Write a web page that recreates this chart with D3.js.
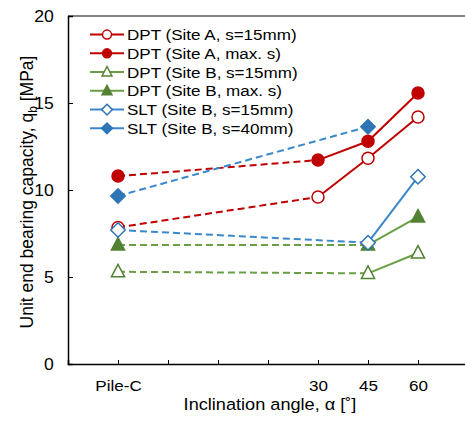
<!DOCTYPE html>
<html><head><meta charset="utf-8">
<script src="https://cdn.jsdelivr.net/npm/d3@7"></script>
<style>body{margin:0;background:#fff}svg{display:block;font-family:"Liberation Sans",Arial,sans-serif}</style>
</head><body>
<svg id="c" width="465" height="425"></svg>
<script>
// Data
const xCategories = ["Pile-C", "30", "45", "60"];
const xPositions = [1, 5, 6, 7];           // position of each category on the axis
const seriesNames = ["DPT (Site A, s=15mm)", "DPT (Site A, max. s)", "DPT (Site B, s=15mm)", "DPT (Site B, max. s)", "SLT (Site B, s=15mm)", "SLT (Site B, s=40mm)"];
const siteA_s15 = [7.85, 9.6, 11.82, 14.2];
const siteA_max = [10.8, 11.72, 12.8, 15.57];
const siteB_s15 = [5.3, null, 5.21, 6.38];
const siteB_max = [6.84, null, 6.84, 8.45];
const slt_s15 = [7.7, null, 6.97, 10.76];
const slt_s40 = [9.66, null, 13.64, null];
const yTicks = [0, 5, 10, 15, 20];

const styles = [
  {line:"#C00000", mk:"#C00000", shape:"circle", fill:false},
  {line:"#C00000", mk:"#C00000", shape:"circle", fill:true},
  {line:"#6A9F45", mk:"#548235", shape:"triangle", fill:false},
  {line:"#6A9F45", mk:"#548235", shape:"triangle", fill:true},
  {line:"#3A87CC", mk:"#2E75B6", shape:"diamond", fill:false},
  {line:"#3A87CC", mk:"#2E75B6", shape:"diamond", fill:true}
];
const allSeries = [siteA_s15, siteA_max, siteB_s15, siteB_max, slt_s15, slt_s40];
const SX = 1.1; // horizontal text stretch seen in the reference

const svg = d3.select("#c");
const x = d3.scaleLinear().domain([0, 8]).range([68, 468]);
const y = d3.scaleLinear().domain([0, 20]).range([364, 16]);

// frame: top line
svg.append("line").attr("x1", 68).attr("x2", 465).attr("y1", 16).attr("y2", 16)
  .attr("stroke", "#595959").attr("stroke-width", 1.5);

// y axis
const yAx = svg.append("g").attr("transform", "translate(68,0)")
  .call(d3.axisLeft(y).tickValues(yTicks).tickSize(-5).tickPadding(13));
yAx.select(".domain").attr("stroke", "#000").attr("stroke-width", 1.5);
yAx.selectAll(".tick line").attr("stroke", "#000").attr("stroke-width", 1);
yAx.selectAll("text").attr("font-size", 16).attr("fill", "#000")
  .attr("font-family", "Liberation Sans, Arial, sans-serif").attr("transform", `scale(${SX},1)`);

// x axis
const xAx = svg.append("g").attr("transform", "translate(0,364)")
  .call(d3.axisBottom(x).tickValues([1,2,3,4,5,6,7]).tickSize(-4).tickPadding(16)
    .tickFormat(d => { const i = xPositions.indexOf(d); return i >= 0 ? xCategories[i] : ""; }));
xAx.select(".domain").attr("stroke", "#000").attr("stroke-width", 1.5);
xAx.selectAll(".tick line").attr("stroke", "#000").attr("stroke-width", 1);
xAx.selectAll("text").attr("font-size", 15.5).attr("fill", "#000")
  .attr("font-family", "Liberation Sans, Arial, sans-serif").attr("transform", `scale(${SX},1)`);

// axis titles
svg.append("text").attr("transform", `translate(270,410) scale(${SX},1)`).attr("text-anchor", "middle")
  .attr("font-size", 16.5).attr("fill", "#000")
  .text("Inclination angle, α [˚]");
const yt = svg.append("text").attr("transform", "translate(33,192) rotate(-90)")
  .attr("text-anchor", "middle").attr("font-size", 17.5).attr("fill", "#000");
yt.append("tspan").text("Unit end bearing capacity, q");
yt.append("tspan").attr("font-size", 12).attr("dy", 4).text("b");
yt.append("tspan").attr("dy", -4).text(" [MPa]");

function marker(g, shape, cx, cy, size, st) {
  let el;
  if (shape === "circle") {
    el = g.append("circle").attr("cx", cx).attr("cy", cy).attr("r", size / 2);
  } else if (shape === "triangle") {
    const h = size, w = size * 1.1;
    el = g.append("path").attr("d", `M${cx},${cy - h*0.62}L${cx + w/2},${cy + h*0.42}L${cx - w/2},${cy + h*0.42}Z`);
  } else {
    const r = size * 0.6;
    el = g.append("path").attr("d", `M${cx},${cy - r}L${cx + r},${cy}L${cx},${cy + r}L${cx - r},${cy}Z`);
  }
  el.attr("fill", st.fill ? st.mk : "#fff").attr("stroke", st.mk).attr("stroke-width", 1.5);
}

// series lines: dashed from Pile-C to first angle point, solid thereafter
const lineGen = d3.line().x(d => x(d[0])).y(d => y(d[1]));
allSeries.forEach((vals, si) => {
  const st = styles[si];
  const pts = vals.map((v, i) => v == null ? null : [xPositions[i], v]).filter(p => p);
  if (pts.length < 2) return;
  svg.append("path").attr("d", lineGen(pts.slice(0, 2))).attr("fill", "none")
    .attr("stroke", st.line).attr("stroke-width", 2).attr("stroke-dasharray", "7,4");
  if (pts.length > 2) {
    svg.append("path").attr("d", lineGen(pts.slice(1))).attr("fill", "none")
      .attr("stroke", st.line).attr("stroke-width", 2);
  }
});
// markers
allSeries.forEach((vals, si) => {
  const st = styles[si];
  const g = svg.append("g");
  vals.forEach((v, i) => { if (v != null) marker(g, st.shape, x(xPositions[i]), y(v), 12, st); });
});

// legend
const leg = svg.append("g");
seriesNames.forEach((name, i) => {
  const st = styles[i];
  const cy = 34.6 + i * 18.75;
  leg.append("line").attr("x1", 90).attr("x2", 124).attr("y1", cy).attr("y2", cy)
    .attr("stroke", st.line).attr("stroke-width", 2);
  marker(leg, st.shape, 107, cy, 9, st);
  leg.append("text").attr("transform", `translate(127,${cy + 5.6}) scale(${SX},1)`)
    .attr("font-size", 15.5).attr("fill", "#000").text(name);
});
</script>
</body></html>
